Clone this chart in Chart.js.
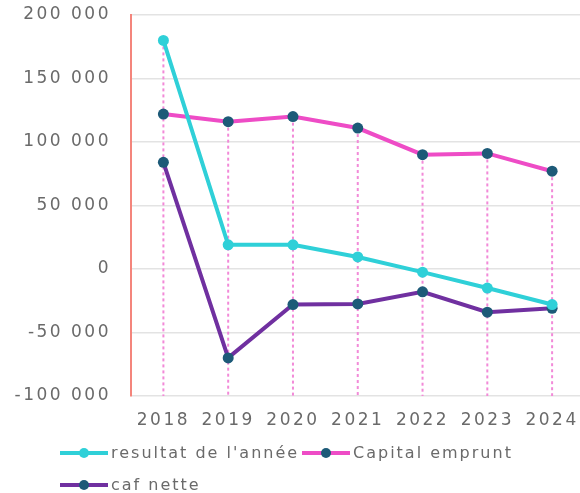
<!DOCTYPE html>
<html>
<head>
<meta charset="utf-8">
<script src="https://cdn.jsdelivr.net/npm/chart.js@4/dist/chart.umd.min.js"></script>
<style>
  html, body { margin: 0; padding: 0; background: #fff; overflow: hidden; }
  #wrap { width: 590px; height: 493px; }
</style>
</head>
<body>
<div id="wrap"><canvas id="chart"></canvas></div>
<script>
const years = ["2018", "2019", "2020", "2021", "2022", "2023", "2024"];
const resultat = [180000, 19000, 19000, 9500, -2500, -15000, -28000];
const capital = [122000, 116000, 120000, 111000, 90000, 91000, 77000];
const cafNette = [84000, -70000, -28000, -27500, -18000, -34000, -31000];
const yTicks = [-100000, -50000, 0, 50000, 100000, 150000, 200000];

const textColor = "#6a6a6a";
const fontFamily = "'DejaVu Sans', sans-serif";

const fmt = (v) => String(Math.abs(v)).replace(/\B(?=(\d{3})+(?!\d))/g, " ");
const label = (v) => (v < 0 ? "-" : "") + fmt(v);

// spacing to mimic the wide original typeface
const spacing = {
  id: "spacing",
  beforeUpdate: (chart) => { chart.ctx.letterSpacing = "2.5px"; },
  beforeDraw: (chart) => { chart.ctx.letterSpacing = "2.5px"; },
};

// vertical dotted lines from the highest point down to the axis bottom
const dropLines = {
  id: "dropLines",
  beforeDatasetsDraw: (chart) => {
    const { ctx, chartArea, scales } = chart;
    ctx.save();
    ctx.strokeStyle = "#f28ad8";
    ctx.lineWidth = 2;
    ctx.setLineDash([3, 3]);
    years.forEach((y, i) => {
      const vals = chart.data.datasets.map((d) => d.data[i]);
      const top = scales.y.getPixelForValue(Math.max(...vals));
      const x = scales.x.getPixelForValue(i);
      ctx.beginPath();
      ctx.moveTo(x, top);
      ctx.lineTo(x, chartArea.bottom);
      ctx.stroke();
    });
    ctx.restore();
  },
};

// legend laid out like the original (two rows, left aligned)
const legendSpots = [
  { x: 60, y: 453 },
  { x: 302, y: 453 },
  { x: 60, y: 485 },
];
const customLegend = {
  id: "customLegend",
  afterDraw: (chart) => {
    const { ctx } = chart;
    ctx.save();
    ctx.letterSpacing = "2px";
    ctx.font = "16px " + fontFamily;
    ctx.textBaseline = "middle";
    chart.data.datasets.forEach((d, i) => {
      const p = legendSpots[i];
      ctx.strokeStyle = d.borderColor;
      ctx.lineWidth = 4;
      ctx.setLineDash([]);
      ctx.beginPath();
      ctx.moveTo(p.x, p.y);
      ctx.lineTo(p.x + 48, p.y);
      ctx.stroke();
      ctx.fillStyle = d.pointBackgroundColor;
      ctx.beginPath();
      ctx.arc(p.x + 24, p.y, 5, 0, Math.PI * 2);
      ctx.fill();
      ctx.fillStyle = textColor;
      ctx.fillText(d.label, p.x + 51, p.y + 1);
    });
    ctx.restore();
  },
};

const makeSet = (name, data, line, point) => ({
  label: name,
  data: data,
  borderColor: line,
  backgroundColor: point,
  pointBackgroundColor: point,
  pointBorderColor: point,
  pointBorderWidth: 0,
  pointRadius: 5.5,
  borderWidth: 4,
  tension: 0,
});

new Chart(document.getElementById("chart"), {
  type: "line",
  data: {
    labels: years,
    datasets: [
      makeSet("resultat de l'année", resultat, "#2fd0d8", "#2fd0d8"),
      makeSet("Capital emprunt", capital, "#ee4cc6", "#1d5a78"),
      makeSet("caf nette", cafNette, "#7030a0", "#1d5a78"),
    ],
  },
  options: {
    responsive: true,
    maintainAspectRatio: false,
    animation: false,
    layout: { padding: { top: 0, right: 0, left: 0, bottom: 50 } },
    plugins: {
      legend: { display: false },
      tooltip: { enabled: false },
    },
    scales: {
      x: {
        offset: true,
        grid: { display: false },
        border: { display: false },
        ticks: {
          color: textColor,
          font: { family: fontFamily, size: 17 },
          padding: 6,
          maxRotation: 0,
          autoSkip: false,
        },
        afterFit: (s) => {
          s.height = 47;
          s.paddingLeft = 0;
          s.paddingRight = 0;
        },
      },
      y: {
        min: -100000,
        max: 200000,
        afterBuildTicks: (s) => { s.ticks = yTicks.map((v) => ({ value: v })); },
        grid: { color: "#e3e3e3", lineWidth: 1.5, drawTicks: false },
        border: { color: "#f4857c", width: 2 },
        ticks: {
          color: textColor,
          font: { family: fontFamily, size: 17 },
          padding: 20,
          callback: (v) => label(v),
        },
        afterFit: (s) => {
          s.width = 131;
          s.paddingTop = 15;
          s.paddingBottom = 0;
        },
      },
    },
  },
  plugins: [spacing, dropLines, customLegend],
});
</script>
</body>
</html>
